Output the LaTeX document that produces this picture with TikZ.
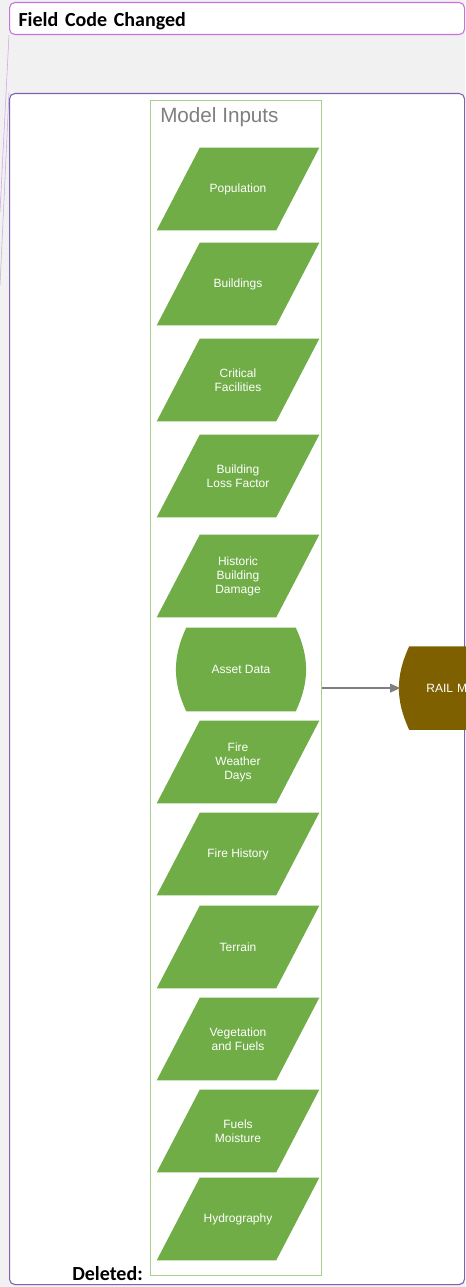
\documentclass[tikz,border=0pt]{standalone}
\usepackage{fontspec}
\setmainfont{Liberation Sans}
\newfontfamily\notefont{Carlito}
\usepackage{tikz}
\usetikzlibrary{positioning, arrows.meta}
\definecolor{inputgreen}{RGB}{112, 173, 71}
\definecolor{framegreen}{RGB}{169, 209, 142}
\definecolor{railbrown}{RGB}{127, 96, 0}
\definecolor{notepink}{RGB}{204, 112, 224}
\definecolor{notepurple}{RGB}{128, 96, 176}
\definecolor{canvasgray}{RGB}{241, 241, 241}
\definecolor{arrowgray}{RGB}{127, 127, 127}
\pgfdeclarelayer{back}
\pgfdeclarelayer{mid}
\pgfsetlayers{back,mid,main}

\begin{document}
\begin{tikzpicture}[x=0.75pt, y=-0.75pt, every node/.style={font=\fontsize{9}{10.5}\selectfont}]
    \tikzstyle{input} = [rectangle, minimum width=89.25pt, minimum height=61.5pt, inner sep=0pt, text=white, align=center]
    \tikzstyle{store} = [rectangle, minimum width=81.75pt, minimum height=62.25pt, inner sep=0pt, text=white]
    \tikzstyle{note} = [rounded corners=4pt, line width=0.8pt]
    \tikzstyle{arrow} = [line width=1.1pt, -{Triangle[length=7.5pt, width=6.5pt]}, draw=arrowgray]

    % Page and comment balloons
    \begin{pgfonlayer}{back}
    \fill[canvasgray] (0,0) rectangle (465,1287);
    \node (mainbox) [note, draw=notepurple, fill=white, anchor=north west, minimum width=341.25pt, minimum height=893.25pt] at (9,93) {};
    \end{pgfonlayer}
    \useasboundingbox (0,0) rectangle (465,1287);

    \node (fieldbox) [note, draw=notepink, fill=white, anchor=north west, minimum width=341.25pt, minimum height=24pt, inner xsep=6.75pt, text width=327.75pt, text height=12pt, text depth=0pt, align=left, font=\notefont\bfseries\fontsize{15}{18}\selectfont] at (9,2) {Field Code Changed};
    \coordinate (pinkend) at (0,212);
    \coordinate (purpleend) at (0,285);
    \draw[notepink!70, line width=0.4pt] (fieldbox.south west) -- (pinkend);
    \draw[notepurple!50, line width=0.4pt] (mainbox.north west) -- (purpleend);

    % Model inputs
    \node (inputs) [draw=framegreen, line width=0.9pt, anchor=north west, minimum width=128.25pt, minimum height=881.25pt] at (150,100) {};
    \node (title) [anchor=base west, inner sep=0pt, text=arrowgray, font=\fontsize{15.5}{18}\selectfont] at (160,123) {Model Inputs};

    \node (pop) [input] at (238,189) {Population};
    \node (bld) [input, below of=pop, node distance=71.25pt] {Buildings};
    \node (crit) [input, below of=bld, node distance=72pt] {Critical\\Facilities};
    \node (loss) [input, below of=crit, node distance=72pt] {Building\\Loss Factor};
    \node (hist) [input, below of=loss, node distance=75pt] {Historic\\Building\\Damage};
    \node (asset) [store] at (241,669.5) {Asset Data};
    \node (wx) [input, below of=hist, node distance=139.5pt] {Fire\\Weather\\Days};
    \node (firehist) [input, below of=wx, node distance=69pt] {Fire History};
    \node (terrain) [input, below of=firehist, node distance=69.75pt] {Terrain};
    \node (veg) [input, below of=terrain, node distance=69pt] {Vegetation\\and Fuels};
    \node (moist) [input, below of=veg, node distance=69pt] {Fuels\\Moisture};
    \node (hydro) [input, below of=moist, node distance=66pt] {Hydrography};

    % Model
    \node (rail) [store, right=65.25pt of inputs, text width=56.25pt, inner xsep=12.75pt, align=left] {RAIL M};

    % Shapes behind the texts
    \begin{pgfonlayer}{mid}
    \foreach \n in {pop, bld, crit, loss, hist, wx, firehist, terrain, veg, moist, hydro}
        \fill[inputgreen] ([xshift=-16.125pt]\n.south west) -- ([xshift=16.125pt]\n.north west) -- ([xshift=16.125pt]\n.north east) -- ([xshift=-16.125pt]\n.south east) -- cycle;
    \fill[inputgreen] (asset.north west) -- (asset.north east) to[bend left=25] (asset.south east) -- (asset.south west) to[bend left=25] (asset.north west);
    \fill[railbrown] (rail.north west) -- (rail.north east) to[bend left=25] (rail.south east) -- (rail.south west) to[bend left=25] (rail.north west);
    \end{pgfonlayer}

    % Arrows
    \draw [arrow, shorten >=6.75pt] (inputs.east) -- (rail.west);

    \node (deleted) [anchor=base west, inner sep=0pt, font=\notefont\bfseries\fontsize{15}{18}\selectfont] at (72,1280) {Deleted:};
\end{tikzpicture}
\end{document}
